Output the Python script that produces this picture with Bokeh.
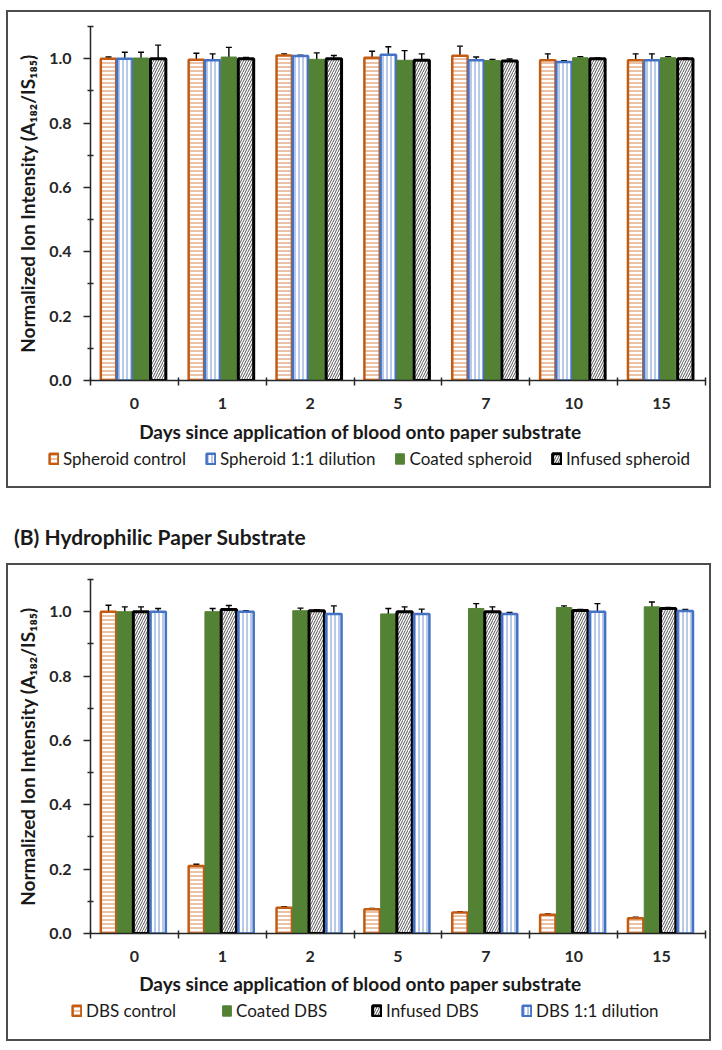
from bokeh.plotting import figure
from bokeh.models import (Range1d, FixedTicker, PrintfTickFormatter, Legend, LegendItem,
                          Whisker, TeeHead, ColumnDataSource, Div, Label)
from bokeh.layouts import column
from bokeh.embed import file_html
from bokeh.resources import INLINE
import numpy as np

days = ["0", "1", "2", "5", "7", "10", "15"]

# Panel A (top)
a_names = ["Spheroid control", "Spheroid 1:1 dilution", "Coated spheroid", "Infused spheroid"]
a_ctrl = [1.000, 0.997, 1.010, 1.003, 1.009, 0.995, 0.995]
a_ctrl_err = [0.005, 0.020, 0.005, 0.020, 0.030, 0.020, 0.020]
a_dil = [1.000, 0.995, 1.008, 1.012, 0.995, 0.990, 0.995]
a_dil_err = [0.020, 0.020, 0.003, 0.025, 0.010, 0.004, 0.020]
a_coat = [1.002, 1.005, 0.998, 0.995, 0.994, 1.003, 1.003]
a_coat_err = [0.018, 0.030, 0.020, 0.030, 0.004, 0.003, 0.003]
a_inf = [1.000, 1.000, 1.000, 0.995, 0.993, 1.000, 1.000]
a_inf_err = [0.042, 0.004, 0.010, 0.020, 0.006, 0.002, 0.002]

# Panel B (bottom)
b_title = "(B) Hydrophilic Paper Substrate"
b_names = ["DBS control", "Coated DBS", "Infused DBS", "DBS 1:1 dilution"]
b_ctrl = [1.000, 0.210, 0.080, 0.075, 0.065, 0.058, 0.047]
b_ctrl_err = [0.020, 0.005, 0.003, 0.003, 0.003, 0.003, 0.004]
b_coat = [1.000, 1.000, 1.003, 0.993, 1.010, 1.013, 1.015]
b_coat_err = [0.015, 0.010, 0.008, 0.017, 0.015, 0.005, 0.015]
b_inf = [1.000, 1.007, 1.003, 1.000, 1.000, 1.004, 1.010]
b_inf_err = [0.015, 0.012, 0.003, 0.015, 0.015, 0.003, 0.003]
b_dil = [1.000, 1.000, 0.993, 0.993, 0.993, 1.000, 1.002]
b_dil_err = [0.010, 0.003, 0.025, 0.015, 0.005, 0.025, 0.005]

x_title = "Days since application of blood onto paper substrate"
y_title = "Normalized Ion Intensity (A\u2081\u2088\u2082/IS\u2081\u2088\u2085)"

ORANGE = "#C55A11"
BLUE = "#4472C4"
GREEN = "#548235"
BLACK = "#000000"
TXT = "#1a1a1a"

STYLES = {
    "ctrl": dict(fill_color="white", line_color=ORANGE, line_width=2.5,
                 hatch_pattern="-", hatch_color=ORANGE, hatch_scale=4, hatch_weight=1, hatch_alpha=0.75),
    "dil": dict(fill_color="white", line_color=BLUE, line_width=2.5,
                hatch_pattern="|", hatch_color=BLUE, hatch_scale=4, hatch_weight=1, hatch_alpha=0.75),
    "coat": dict(fill_color=GREEN, line_color=GREEN, line_width=1),
    "inf": dict(fill_color="white", line_color=BLACK, line_width=3,
                hatch_pattern="/", hatch_color="#555555", hatch_scale=5, hatch_weight=1),
}

FONT = "Lato"
BAR_W = 0.175
OFFSETS = [-0.28, -0.095, 0.09, 0.285]
CENTER = 0.485
ML, FW, MR = 82, 615, 4   # left border, frame width, right border (px)
HAS_FA = "frame_align" in figure.properties()


def make_panel(series, legend_label_width, legend_spacing, legend_left, legend_bottom, title_y):
    p = figure(frame_width=FW, frame_height=354, output_backend="svg", toolbar_location=None,
               x_range=Range1d(0, 7), y_range=Range1d(0, 1.1),
               min_border_left=ML, min_border_right=MR, min_border_top=14, min_border_bottom=40)
    p.xgrid.visible = False
    p.ygrid.visible = False
    p.outline_line_color = None

    idx = np.arange(len(days))
    srcs = []
    for k, (name, vals, errs, key) in enumerate(series):
        xs = idx + CENTER + OFFSETS[k]
        src = ColumnDataSource(dict(x=xs, top=vals,
                                    upper=np.array(vals) + np.array(errs),
                                    lower=np.array(vals) - np.array(errs)))
        p.vbar(x="x", top="top", width=BAR_W, bottom=0, source=src, **STYLES[key])
        srcs.append(src)
    for src in srcs:
        w = Whisker(base="x", upper="upper", lower="lower", source=src, dimension="height",
                    line_color="black", line_width=1.4,
                    upper_head=TeeHead(size=6, line_width=1.4, line_color="black"),
                    lower_head=TeeHead(size=6, line_width=1.4, line_color="black"))
        p.add_layout(w)

    # x axis
    xa = p.xaxis[0]
    xa.ticker = FixedTicker(ticks=[i + 0.5 for i in range(len(days))],
                            minor_ticks=list(range(len(days) + 1)))
    xa.major_label_overrides = {i + 0.5: d for i, d in enumerate(days)}
    xa.major_tick_out = 0
    xa.major_tick_in = 0
    xa.minor_tick_in = 3
    xa.minor_tick_out = 5
    xa.major_label_standoff = 12
    # y axis
    ya = p.yaxis[0]
    ya.ticker = FixedTicker(ticks=[0, 0.2, 0.4, 0.6, 0.8, 1.0],
                            minor_ticks=[0.1, 0.3, 0.5, 0.7, 0.9, 1.1])
    ya.formatter = PrintfTickFormatter(format="%.1f")
    ya.major_tick_out = 7
    ya.major_tick_in = 0
    ya.minor_tick_in = 3
    ya.minor_tick_out = 3
    ya.major_label_standoff = 12
    ya.axis_label = y_title
    ya.axis_label_standoff = 7
    for ax in (xa, ya):
        ax.axis_line_color = "#262626"
        ax.axis_line_width = 1.5
        ax.major_tick_line_color = "#262626"
        ax.major_tick_line_width = 1.5
        ax.minor_tick_line_color = "#262626"
        ax.minor_tick_line_width = 1.5
        ax.major_label_text_font = FONT
        ax.major_label_text_font_style = "bold"
        ax.major_label_text_font_size = "16px"
        ax.major_label_text_color = "#262626"
        ax.axis_label_text_font = FONT
        ax.axis_label_text_font_style = "bold"
        ax.axis_label_text_font_size = "19px"
        ax.axis_label_text_color = TXT

    # strip below the plot: x-axis title and legend; x range expressed in page pixels
    if HAS_FA:
        q = figure(frame_width=ML + FW + MR, frame_height=66, output_backend="svg",
                   toolbar_location=None, x_range=Range1d(8, 709), y_range=Range1d(0, 66),
                   x_axis_type=None, y_axis_type=None,
                   min_border_left=0, min_border_right=0, min_border_top=0, min_border_bottom=0)
        q.frame_align = False
        p.frame_align = False
        frame_left = 8
    else:
        q = figure(frame_width=FW, frame_height=66, output_backend="svg", toolbar_location=None,
                   x_range=Range1d(90, 705), y_range=Range1d(0, 66),
                   x_axis_type=None, y_axis_type=None,
                   min_border_left=ML, min_border_right=MR, min_border_top=0, min_border_bottom=0)
        frame_left = 90
    q.xgrid.visible = False
    q.ygrid.visible = False
    q.outline_line_color = None
    q.add_layout(Label(x=360, y=title_y, text=x_title, text_align="center", text_baseline="middle",
                       text_font=FONT, text_font_style="bold", text_font_size="19px",
                       text_color=TXT))
    items = []
    for (name, vals, errs, key) in series:
        # hidden stand-in renderer, only used to draw the legend swatch
        r = q.vbar(x=[360], top=[30], width=1, bottom=0, visible=False, **STYLES[key])
        items.append(LegendItem(label=name, renderers=[r]))
    leg = Legend(items=items, orientation="horizontal",
                 location=(max(legend_left - frame_left, 1), legend_bottom),
                 label_text_font=FONT, label_text_font_size="17px", label_text_color=TXT,
                 glyph_width=11, glyph_height=13, label_standoff=4, spacing=legend_spacing,
                 label_width=legend_label_width, padding=1, margin=0,
                 inactive_fill_alpha=0,
                 border_line_color=None, background_fill_alpha=0)
    q.add_layout(leg)
    return column(p, q, spacing=0, styles={"border": "2px solid #4d4d4d"})


boxA = make_panel([
    (a_names[0], a_ctrl, a_ctrl_err, "ctrl"),
    (a_names[1], a_dil, a_dil_err, "dil"),
    (a_names[2], a_coat, a_coat_err, "coat"),
    (a_names[3], a_inf, a_inf_err, "inf"),
], 20, 19, 48, 17, 55)

title_div = Div(text=b_title, width=705, height=75, margin=0,
                styles={"font-family": FONT, "font-weight": "bold", "font-size": "21px",
                        "color": TXT, "padding-top": "34px", "padding-left": "8px"})

boxB = make_panel([
    (b_names[0], b_ctrl, b_ctrl_err, "ctrl"),
    (b_names[1], b_coat, b_coat_err, "coat"),
    (b_names[2], b_inf, b_inf_err, "inf"),
    (b_names[3], b_dil, b_dil_err, "dil"),
], 125, 10, 71, 18, 56)

layout = column(boxA, title_div, boxB, spacing=0, margin=(10, 0, 0, 6))
open("out.html", "w").write(file_html(layout, INLINE))
